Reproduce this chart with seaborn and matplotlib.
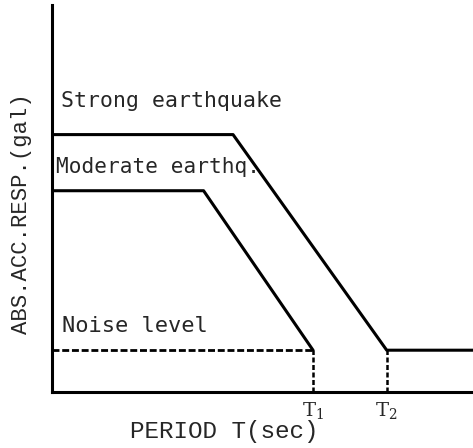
import pandas as pd
import matplotlib.pyplot as plt
import seaborn as sns

# response spectrum sketch (arbitrary units)
T1 = 6.2
T2 = 7.95
x_strong = [0.0, 4.3, T2, 10.0]
y_strong = [6.65, 6.65, 1.08, 1.08]
x_moderate = [0.0, 3.6, T1]
y_moderate = [5.2, 5.2, 1.08]
noise_level = 1.08
tick_pos = [T1, T2]
tick_labels = [r"T$_\mathregular{1}$", r"T$_\mathregular{2}$"]

sns.set_style("white")
plt.rcParams["font.family"] = ["DejaVu Sans Mono"]

fig = plt.figure(figsize=(4.73, 4.48), dpi=100)
ax = fig.add_axes([0.110, 0.125, 0.89, 0.864])

df_s = pd.DataFrame({"T": x_strong, "A": y_strong})
df_m = pd.DataFrame({"T": x_moderate, "A": y_moderate})
sns.lineplot(data=df_s, x="T", y="A", color="black", lw=2.2, sort=False, ax=ax)
sns.lineplot(data=df_m, x="T", y="A", color="black", lw=2.2, sort=False, ax=ax)

# noise level, dashed up to T1
ax.plot([0, T1], [noise_level, noise_level], color="black", lw=2.0, ls=(0, (2.5, 1.0)))
for t in tick_pos:
    ax.plot([t, t], [0, noise_level], color="black", lw=1.8, ls=(0, (2.0, 1.0)))

ax.text(0.22, 7.37, "Strong earthquake", fontsize=15.5, va="baseline")
ax.text(0.1, 5.66, "Moderate earthq.", fontsize=15.2, va="baseline")
ax.text(0.24, 1.55, "Noise level", fontsize=15.8, va="baseline")

ax.set_xlim(0, 10)
ax.set_ylim(0, 10)
ax.set_xticks(tick_pos)
ax.set_xticklabels(tick_labels, fontsize=14, family="DejaVu Serif")
ax.set_yticks([])
ax.tick_params(axis="x", length=0, pad=6)
ax.set_xlabel("PERIOD T(sec)", fontsize=17.5, family="Liberation Mono")
ax.set_ylabel("ABS.ACC.RESP.(gal)", fontsize=16, family="Liberation Mono")
ax.yaxis.set_label_coords(-0.073, 0.46)
ax.xaxis.set_label_coords(0.41, -0.103)
ax.xaxis.label.set_va("center")
ax.yaxis.label.set_va("center")

sns.despine(ax=ax)
for sp in ["left", "bottom"]:
    ax.spines[sp].set_linewidth(2.2)
    ax.spines[sp].set_color("black")

fig.savefig("out.png", dpi=100)
